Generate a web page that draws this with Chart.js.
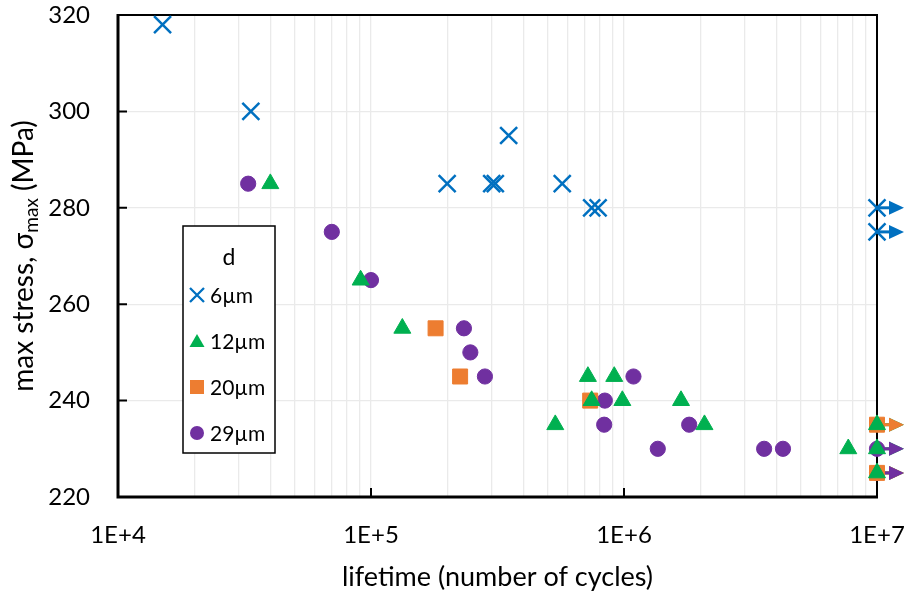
<!DOCTYPE html>
<html><head><meta charset="utf-8">
<script src="https://cdn.jsdelivr.net/npm/chart.js@4.4.1/dist/chart.umd.min.js"></script>
<style>html,body{margin:0;padding:0;background:#fff}#wrap{width:905px;height:597px;position:relative}</style>
</head><body><div id="wrap"><canvas id="c"></canvas></div>
<script>
// ---- data ----
const seriesNames = ['6µm', '12µm', '20µm', '29µm'];
const cycles6  = [1.5e4, 3.35e4, 2.0e5, 3.0e5, 3.1e5, 3.5e5, 5.7e5, 7.45e5, 7.9e5, 1e7, 1e7];
const stress6  = [318,   300,    285,   285,   285,   295,   285,   280,    280,   280, 275];
const cycles12 = [4.0e4, 9.1e4, 1.33e5, 5.35e5, 7.2e5, 9.15e5, 7.45e5, 9.85e5, 1.68e6, 2.08e6, 7.7e6, 1e7, 1e7, 1e7];
const stress12 = [285,   265,   255,    235,    245,   245,    240,    240,    240,    235,    230,   235, 230, 225];
const cycles20 = [1.8e5, 2.25e5, 7.35e5, 1e7, 1e7];
const stress20 = [255,   245,    240,    235, 225];
const cycles29 = [3.27e4, 7.0e4, 1.0e5, 2.33e5, 2.47e5, 2.82e5, 1.09e6, 8.4e5, 8.35e5, 1.36e6, 1.81e6, 3.58e6, 4.25e6, 1e7, 1e7];
const stress29 = [285,    275,   265,   255,    250,    245,    245,    240,   235,   230,    235,    230,    230,    230, 225];
const runoutLimit = 1e7;   // specimens that reached this count did not fail (drawn with an arrow)
const xDecades = [1e4, 1e5, 1e6, 1e7];
const xTickLabels = ['1E+4', '1E+5', '1E+6', '1E+7'];
const yTickValues = [220, 240, 260, 280, 300, 320];
const xTitle = 'lifetime (number of cycles)';
const yTitleParts = ['max stress, σ', 'max', ' (MPa)'];
const legendTitle = 'd';

// ---- styles ----
const colors = ['#0070C0', '#00B050', '#ED7D31', '#7030A0'];
const pStyles = ['crossRot', 'triangle', 'rect', 'circle'];
const pRadius = [12, 9.8, 10.6, 7.6];
const FONT = 'Lato';

const allCycles = [cycles6, cycles12, cycles20, cycles29];
const allStress = [stress6, stress12, stress20, stress29];

const datasets = seriesNames.map((name, i) => ({
  label: name,
  data: allCycles[i].map((x, j) => ({x: x, y: allStress[i][j]})),
  pointStyle: pStyles[i],
  pointRadius: pRadius[i],
  pointHoverRadius: pRadius[i],
  backgroundColor: colors[i],
  borderColor: colors[i],
  borderWidth: i === 0 ? 2.5 : 1,
  showLine: false,
  clip: false
}));

// grid positions for the log axis (1..9 per decade)
function logGridValues() {
  const out = [];
  for (let d = 0; d < xDecades.length - 1; d++) {
    for (let k = 1; k <= 9; k++) out.push(xDecades[d] * k);
  }
  out.push(xDecades[xDecades.length - 1]);
  return out;
}

const decorPlugin = {
  id: 'decor',
  beforeDatasetsDraw(chart) {
    const ctx = chart.ctx, a = chart.chartArea;
    const xs = chart.scales.x, ys = chart.scales.y;
    ctx.save();
    // frame
    ctx.strokeStyle = '#000';
    ctx.lineWidth = 2;
    ctx.strokeRect(a.left, a.top, a.right - a.left, a.bottom - a.top);
    // thick left & bottom
    ctx.lineWidth = 3;
    ctx.beginPath();
    ctx.moveTo(a.left, a.top - 1); ctx.lineTo(a.left, a.bottom); ctx.lineTo(a.right + 1, a.bottom);
    ctx.stroke();
    // inward tick marks
    ctx.lineWidth = 2;
    ctx.beginPath();
    xDecades.forEach(v => {
      const px = xs.getPixelForValue(v);
      ctx.moveTo(px, a.bottom); ctx.lineTo(px, a.bottom - 9);
    });
    yTickValues.forEach(v => {
      const py = ys.getPixelForValue(v);
      ctx.moveTo(a.left, py); ctx.lineTo(a.left + 9, py);
    });
    ctx.stroke();
    // run-out arrows
    chart.data.datasets.forEach((ds, i) => {
      ds.data.forEach(p => {
        if (p.x < runoutLimit) return;
        const px = xs.getPixelForValue(p.x), py = ys.getPixelForValue(p.y);
        ctx.strokeStyle = colors[i];
        ctx.fillStyle = colors[i];
        ctx.lineWidth = 3;
        ctx.beginPath(); ctx.moveTo(px, py); ctx.lineTo(px + 14, py); ctx.stroke();
        ctx.beginPath();
        ctx.moveTo(px + 12, py - 7); ctx.lineTo(px + 27, py); ctx.lineTo(px + 12, py + 7);
        ctx.closePath(); ctx.fill();
      });
    });
    ctx.restore();
  },
  afterDatasetsDraw(chart) {
    const ctx = chart.ctx;
    ctx.save();
    // legend box
    const bx = 183, by = 226, bw = 92, bh = 227;
    ctx.fillStyle = '#fff';
    ctx.fillRect(bx, by, bw, bh);
    ctx.strokeStyle = '#000';
    ctx.lineWidth = 1.5;
    ctx.strokeRect(bx, by, bw, bh);
    ctx.fillStyle = '#000';
    ctx.font = '23px ' + FONT;
    ctx.textAlign = 'center';
    ctx.textBaseline = 'middle';
    ctx.fillText(legendTitle, bx + 46, by + 32);
    ctx.font = '21px ' + FONT;
    ctx.textAlign = 'left';
    const rowY = [295, 341, 387, 433];
    seriesNames.forEach((name, i) => {
      const mx = 197, my = rowY[i];
      ctx.fillStyle = colors[i];
      ctx.strokeStyle = colors[i];
      ctx.beginPath();
      if (pStyles[i] === 'crossRot') {
        ctx.lineWidth = 2.3;
        ctx.moveTo(mx - 7, my - 7); ctx.lineTo(mx + 7, my + 7);
        ctx.moveTo(mx + 7, my - 7); ctx.lineTo(mx - 7, my + 7);
        ctx.stroke();
      } else if (pStyles[i] === 'triangle') {
        ctx.moveTo(mx, my - 7); ctx.lineTo(mx + 7.5, my + 6); ctx.lineTo(mx - 7.5, my + 6);
        ctx.closePath(); ctx.fill();
      } else if (pStyles[i] === 'rect') {
        ctx.rect(mx - 7, my - 7, 14, 14); ctx.fill();
      } else {
        ctx.arc(mx, my, 7, 0, Math.PI * 2); ctx.fill();
      }
      ctx.fillStyle = '#000';
      ctx.fillText(name, 210, my + 1);
    });
    ctx.restore();
  },
  afterDraw(chart) {
    // y-axis title with subscript
    const ctx = chart.ctx, a = chart.chartArea;
    ctx.save();
    const big = '28px ' + FONT, small = '19px ' + FONT;
    ctx.font = big; const w0 = ctx.measureText(yTitleParts[0]).width;
    const w2 = ctx.measureText(yTitleParts[2]).width;
    ctx.font = small; const w1 = ctx.measureText(yTitleParts[1]).width;
    const total = w0 + w1 + w2;
    ctx.translate(23, (a.top + a.bottom) / 2);
    ctx.rotate(-Math.PI / 2);
    ctx.fillStyle = '#000';
    ctx.textAlign = 'left';
    ctx.textBaseline = 'alphabetic';
    let x = -total / 2;
    ctx.font = big; ctx.fillText(yTitleParts[0], x, 10); x += w0;
    ctx.font = small; ctx.fillText(yTitleParts[1], x, 15); x += w1;
    ctx.font = big; ctx.fillText(yTitleParts[2], x, 10);
    ctx.restore();
  }
};

new Chart(document.getElementById('c'), {
  type: 'scatter',
  data: {datasets: datasets},
  plugins: [decorPlugin],
  options: {
    responsive: true,
    maintainAspectRatio: false,
    animation: false,
    events: [],
    layout: {padding: {top: 15, right: 28, left: 0, bottom: 0}},
    plugins: {legend: {display: false}, tooltip: {enabled: false}},
    scales: {
      x: {
        type: 'logarithmic',
        min: xDecades[0],
        max: xDecades[xDecades.length - 1],
        afterBuildTicks: (s) => { s.ticks = logGridValues().map(v => ({value: v})); },
        afterFit: (s) => { s.height = 100; s.paddingLeft = 0; s.paddingRight = 0; },
        grid: {color: '#EAEAEA', lineWidth: 1.3, drawTicks: false},
        border: {display: false},
        ticks: {
          autoSkip: false, maxRotation: 0, minRotation: 0, padding: 24,
          color: '#000', font: {family: FONT, size: 24},
          callback: (v) => {
            const idx = xDecades.findIndex(d => Math.abs(d - v) / d < 1e-9);
            return idx >= 0 ? xTickLabels[idx] : '';
          }
        },
        title: {display: true, text: xTitle, color: '#000', font: {family: FONT, size: 27}, padding: {top: 0, bottom: 4}}
      },
      y: {
        type: 'linear',
        min: yTickValues[0],
        max: yTickValues[yTickValues.length - 1],
        afterBuildTicks: (s) => { s.ticks = yTickValues.map(v => ({value: v})); },
        afterFit: (s) => { s.width = 118; s.paddingTop = 0; s.paddingBottom = 0; },
        grid: {color: '#EAEAEA', lineWidth: 1.3, drawTicks: false},
        border: {display: false},
        ticks: {padding: 28, color: '#000', font: {family: FONT, size: 24}}
      }
    }
  }
});
</script>
</body></html>
